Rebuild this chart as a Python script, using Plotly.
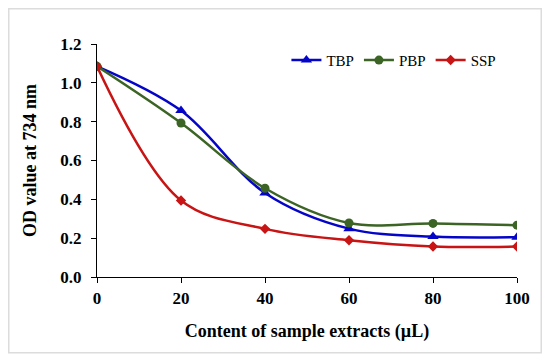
import plotly.graph_objects as go

x_vals = [0, 20, 40, 60, 80, 100]
tbp = [1.085, 0.857, 0.433, 0.249, 0.208, 0.205]
pbp = [1.085, 0.793, 0.457, 0.278, 0.276, 0.267]
ssp = [1.085, 0.394, 0.248, 0.189, 0.157, 0.157]

y_ticks = [0.0, 0.2, 0.4, 0.6, 0.8, 1.0, 1.2]
y_tick_text = ["0.0", "0.2", "0.4", "0.6", "0.8", "1.0", "1.2"]
x_ticks = [0, 20, 40, 60, 80, 100]

FONT = "Liberation Serif, Times New Roman, serif"

fig = go.Figure()
series = [
    ("TBP", tbp, "#0505c8", "triangle-up", 10),
    ("PBP", pbp, "#3b6425", "circle", 9),
    ("SSP", ssp, "#c81414", "diamond", 8),
]
for name, vals, col, sym, sz in series:
    fig.add_trace(go.Scatter(
        x=x_vals, y=vals, name=name, mode="lines+markers",
        line=dict(color=col, width=2.5, shape="spline", smoothing=1.0),
        marker=dict(symbol=sym, size=sz, color=col),
    ))

# page body has an 8px margin; the figure sits inside it
W, H = 534, 347
L, R, T, B = 89, 25, 36, 77.5
pw = W - L - R
ph = H - T - B

def px2paper_x(px):
    return (px - L) / pw

def px2paper_y(py):
    return (H - B - py) / ph

fig.add_shape(type="rect", xref="paper", yref="paper",
              x0=px2paper_x(0.75), x1=px2paper_x(533.25),
              y0=px2paper_y(345.5), y1=px2paper_y(0.75),
              line=dict(color="#dcdcdc", width=1.5), layer="below")

fig.update_layout(
    width=W, height=H,
    margin=dict(l=L, r=R, t=T, b=B),
    paper_bgcolor="white", plot_bgcolor="white",
    font=dict(family=FONT, color="black"),
    showlegend=True,
    legend=dict(
        orientation="h", x=0.451, y=0.93, xanchor="left", yanchor="middle",
        font=dict(family=FONT, size=15, color="black"),
        bgcolor="rgba(0,0,0,0)", itemwidth=30, tracegroupgap=0,
    ),
    xaxis=dict(
        range=[0, 100], tickvals=x_ticks, showgrid=False, zeroline=False,
        showline=True, linecolor="black", linewidth=1.2,
        ticks="outside", ticklen=5, tickcolor="black", ticklabelstandoff=0,
        tickfont=dict(family=FONT, size=17, color="black", weight="bold"),
        title=dict(text="<b>Content of sample extracts (µL)</b>",
                   font=dict(family=FONT, size=18, color="black"), standoff=17),
    ),
    yaxis=dict(
        range=[0, 1.2], tickvals=y_ticks, ticktext=y_tick_text, showgrid=False,
        zeroline=False, showline=True, linecolor="black", linewidth=1.2,
        ticks="outside", ticklen=5, tickcolor="black", ticklabelstandoff=6,
        tickfont=dict(family=FONT, size=17, color="black", weight="bold"),
        title=dict(text="<b>OD value at 734 nm</b>",
                   font=dict(family=FONT, size=18, color="black"), standoff=18),
    ),
)

fig.write_html("out.html")
